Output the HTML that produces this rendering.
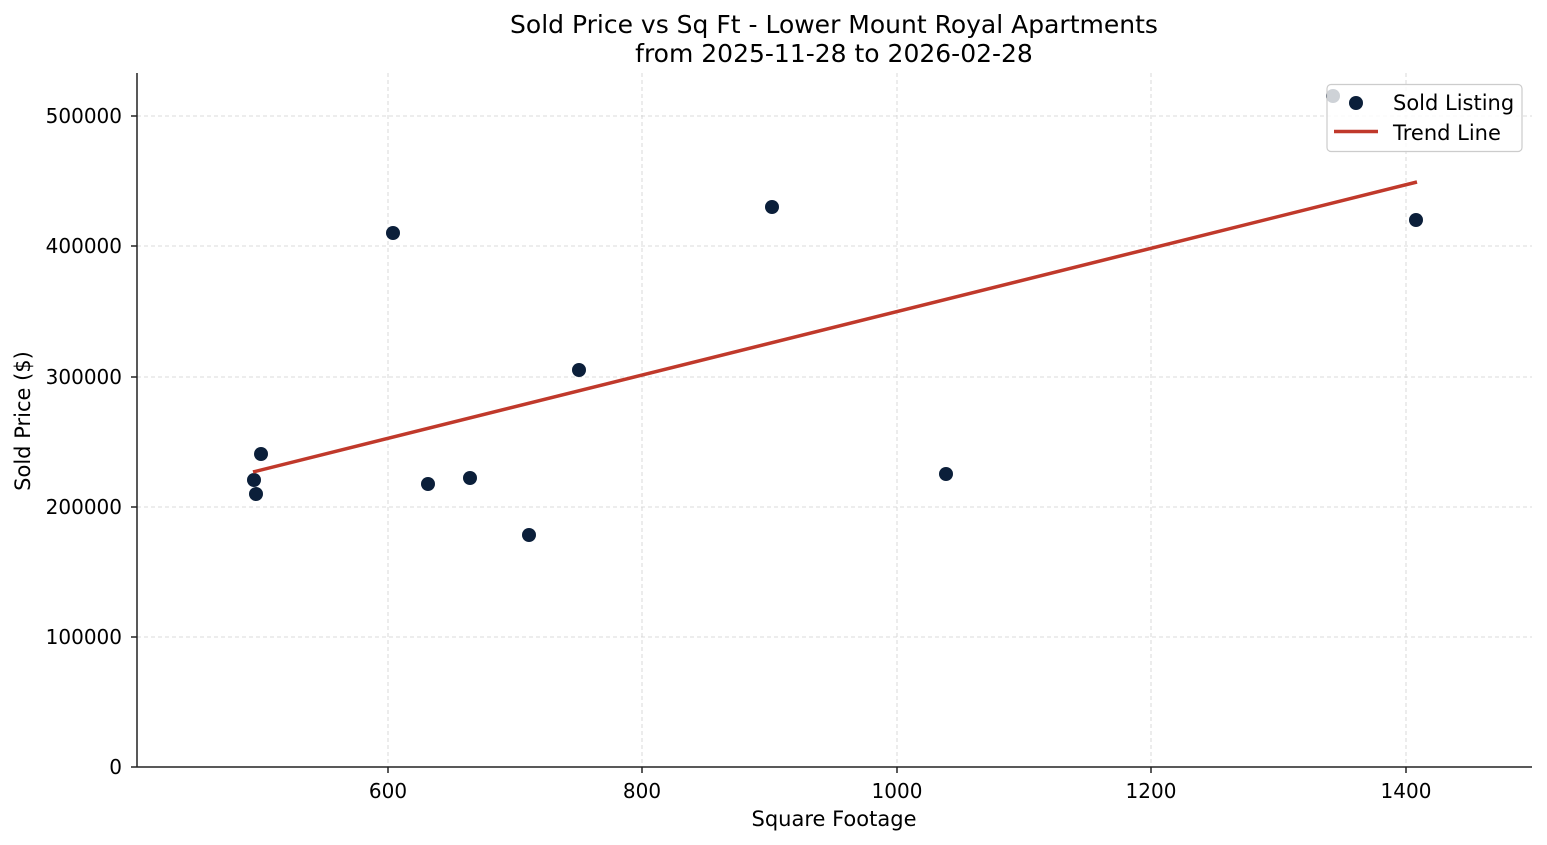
<!DOCTYPE html>
<html><head><meta charset="utf-8"><style>
html,body{margin:0;padding:0;background:#fff;}
svg{display:block;font-family:"DejaVu Sans","Liberation Sans",sans-serif;}
</style></head><body>
<svg width="1547" height="845" viewBox="0 0 1547 845" xmlns="http://www.w3.org/2000/svg">
<rect width="1547" height="845" fill="#fff"/>
<g stroke="#d0d0d0" stroke-width="0.8" stroke-dasharray="4,3">
<line x1="388" y1="73" x2="388" y2="767"/><line x1="642" y1="73" x2="642" y2="767"/>
<line x1="897" y1="73" x2="897" y2="767"/><line x1="1151" y1="73" x2="1151" y2="767"/>
<line x1="1406" y1="73" x2="1406" y2="767"/>
<line x1="137" y1="116" x2="1532" y2="116"/><line x1="137" y1="246" x2="1532" y2="246"/>
<line x1="137" y1="377" x2="1532" y2="377"/><line x1="137" y1="507" x2="1532" y2="507"/>
<line x1="137" y1="637" x2="1532" y2="637"/>
</g>
<g stroke="#222" stroke-width="1.5">
<line x1="137" y1="73" x2="137" y2="767"/><line x1="137" y1="767" x2="1532" y2="767"/>
<line x1="131" y1="116" x2="137" y2="116"/><line x1="131" y1="246" x2="137" y2="246"/>
<line x1="131" y1="377" x2="137" y2="377"/><line x1="131" y1="507" x2="137" y2="507"/>
<line x1="131" y1="637" x2="137" y2="637"/><line x1="131" y1="767" x2="137" y2="767"/>
<line x1="388" y1="767" x2="388" y2="773"/><line x1="642" y1="767" x2="642" y2="773"/>
<line x1="897" y1="767" x2="897" y2="773"/><line x1="1151" y1="767" x2="1151" y2="773"/>
<line x1="1406" y1="767" x2="1406" y2="773"/>
</g>
<g font-size="20" fill="#000" text-anchor="end">
<text x="122" y="123">500000</text><text x="122" y="253">400000</text>
<text x="122" y="384">300000</text><text x="122" y="514">200000</text>
<text x="122" y="644">100000</text><text x="122" y="774">0</text>
</g>
<g font-size="20" fill="#000" text-anchor="middle">
<text x="388" y="798">600</text><text x="642" y="798">800</text>
<text x="897" y="798">1000</text><text x="1151" y="798">1200</text>
<text x="1406" y="798">1400</text>
<text x="834" y="826" font-size="21">Square Footage</text>
<text x="834" y="33" font-size="25">Sold Price vs Sq Ft - Lower Mount Royal Apartments</text>
<text x="834" y="62" font-size="25">from 2025-11-28 to 2026-02-28</text>
</g>
<text x="30" y="421" font-size="21" text-anchor="middle" transform="rotate(-90 30 421)">Sold Price ($)</text>
<g fill="#0b1f3a">
<circle cx="254" cy="480" r="7"/><circle cx="256" cy="494" r="7"/><circle cx="261" cy="454" r="7"/>
<circle cx="393" cy="233" r="7"/><circle cx="428" cy="484" r="7"/><circle cx="470" cy="478" r="7"/>
<circle cx="529" cy="535" r="7"/><circle cx="579" cy="370" r="7"/><circle cx="772" cy="207" r="7"/>
<circle cx="946" cy="474" r="7"/><circle cx="1333" cy="96" r="7"/><circle cx="1416" cy="220" r="7"/>
</g>
<line x1="253" y1="472" x2="1417" y2="182" stroke="#c0392b" stroke-width="3.5"/>
<rect x="1327" y="84.5" width="195" height="67" rx="4" fill="#fff" fill-opacity="0.8" stroke="#ccc" stroke-width="1.2"/>
<circle cx="1356" cy="103" r="7" fill="#0b1f3a"/>
<line x1="1334" y1="131.5" x2="1378" y2="131.5" stroke="#c0392b" stroke-width="3.5"/>
<g font-size="21" fill="#000">
<text x="1393" y="110">Sold Listing</text>
<text x="1393" y="140">Trend Line</text>
</g>
</svg>
</body></html>
